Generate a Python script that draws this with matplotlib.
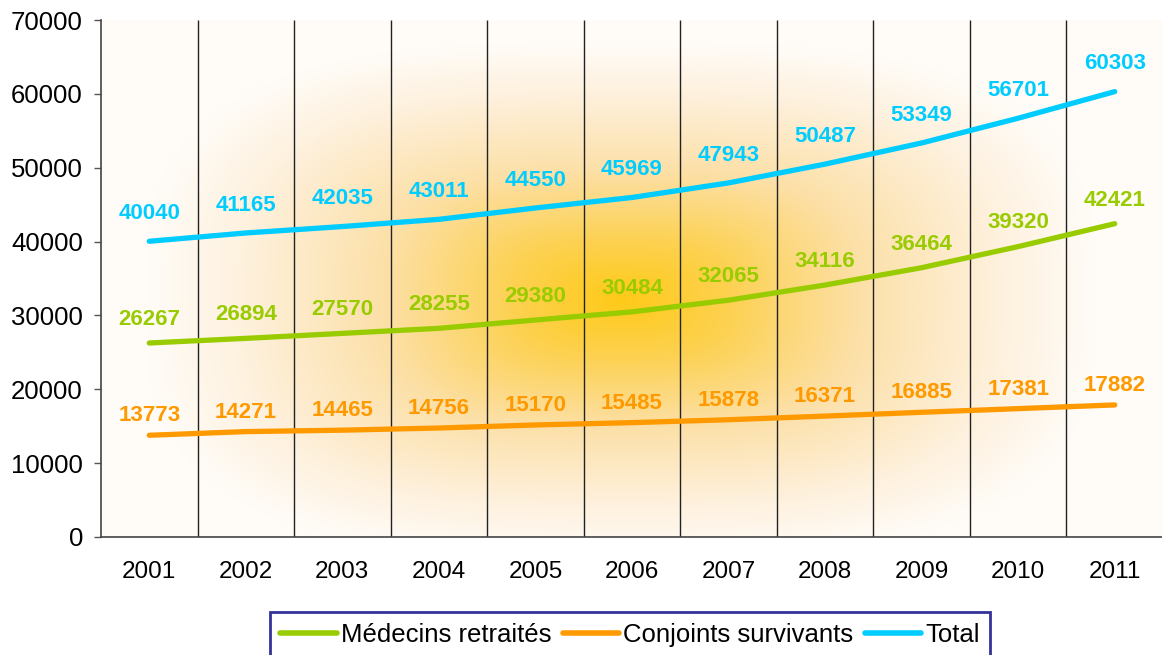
import numpy as np
import matplotlib.pyplot as plt
from matplotlib.colors import LinearSegmentedColormap

years = ['2001', '2002', '2003', '2004', '2005', '2006', '2007', '2008', '2009', '2010', '2011']
medecins = [26267, 26894, 27570, 28255, 29380, 30484, 32065, 34116, 36464, 39320, 42421]
conjoints = [13773, 14271, 14465, 14756, 15170, 15485, 15878, 16371, 16885, 17381, 17882]
total = [40040, 41165, 42035, 43011, 44550, 45969, 47943, 50487, 53349, 56701, 60303]

plt.rcParams['font.family'] = ['Liberation Sans', 'DejaVu Sans']

fig = plt.figure(figsize=(11.62, 6.55), dpi=100)
ax = fig.add_axes([101 / 1162, 1 - 537 / 655, 1062 / 1162, 517 / 655])
x = np.arange(len(years))
ax.set_xlim(-0.5, len(years) - 0.5)
ax.set_ylim(0, 70000)

# soft golden glow behind the plot, fading to white inside an inset frame
gx = np.linspace(0, 1, 700)
gy = np.linspace(0, 1, 350)
GX, GY = np.meshgrid(gx, gy)
p = 3.0
r = ((np.abs(GX - 0.49) / 0.45) ** p + (np.abs(GY - 0.46) / 0.50) ** p) ** (1 / p)
glow = LinearSegmentedColormap.from_list(
    'glow', [(0.0, '#FFCA18'), (0.22, '#FDD150'), (0.5, '#FCE0A8'),
             (0.8, '#FEF1DE'), (1.0, '#FFFCF8')])
img = glow(np.clip(r, 0, 1))
ax.imshow(img, extent=[0, 1, 0, 1], transform=ax.transAxes, origin='lower',
          aspect='auto', zorder=0, interpolation='bilinear')

# column separators
ax.vlines(x[:-1] + 0.5, 0, 70000, color='#222222', lw=1.0, zorder=1)

series = [
    ('Médecins retraités', medecins, '#99CC00', 17),
    ('Conjoints survivants', conjoints, '#FF9900', 14),
    ('Total', total, '#00CCFF', 20),
]
handles = []
for name, vals, col, off in series:
    ln, = ax.plot(x, vals, color=col, lw=3.8, solid_capstyle='round', zorder=3, label=name)
    handles.append(ln)
    for xi, v in zip(x, vals):
        ax.annotate(f'{v}', (xi, v), xytext=(0, off), textcoords='offset points',
                    ha='center', va='center', fontsize=16, fontweight='bold',
                    color=col, zorder=4)

ax.set_xticks(x)
ax.set_xticklabels(years)
ax.set_yticks(np.arange(0, 70001, 10000))
ax.tick_params(axis='x', length=0, pad=17, labelsize=17.5)
ax.tick_params(axis='y', length=5, width=1, color='#555555', pad=8, labelsize=18.5)
for s in ('top', 'right'):
    ax.spines[s].set_visible(False)
for s in ('left', 'bottom'):
    ax.spines[s].set_color('#444444')
    ax.spines[s].set_linewidth(1.2)
    ax.spines[s].set_zorder(2)

leg = fig.legend(handles=handles, loc='lower center', bbox_to_anchor=(630 / 1162, -0.004),
                 ncol=3, fontsize=18.5, frameon=True, fancybox=False, shadow=False,
                 handlelength=2.2, handletextpad=0.15, columnspacing=0.45,
                 borderpad=0.42, borderaxespad=0)
leg.get_frame().set_edgecolor('#000080')
leg.get_frame().set_linewidth(2)
for h in leg.get_lines():
    h.set_linewidth(4)

fig.savefig('out.png', dpi=100)
